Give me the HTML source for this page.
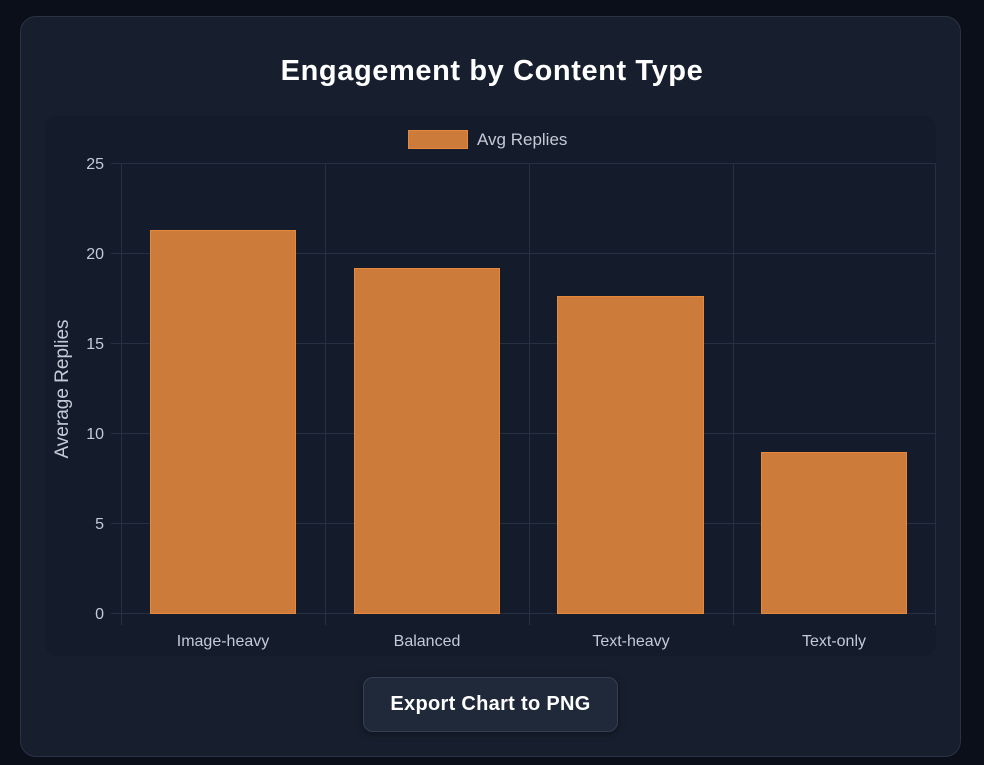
<!DOCTYPE html>
<html><head><style>
body{margin:0;width:984px;height:765px;background:#0b0f1a;font-family:"Liberation Sans",sans-serif;overflow:hidden;position:relative}
.card{position:absolute;left:20px;top:16px;width:941px;height:741px;box-sizing:border-box;background:#171f2e;border:1px solid #2a3344;border-radius:16px}
.title{position:absolute;left:0;width:984px;top:55px;text-align:center;color:#fff;font-weight:bold;font-size:29px;letter-spacing:0.6px}
.panel{position:absolute;left:45px;top:116px;width:891px;height:540px;background:#141c2b;border-radius:12px}
.btn{position:absolute;left:363px;top:677px;width:255px;height:55px;box-sizing:border-box;background:#1f293a;border:1px solid #344055;border-radius:10px;color:#fff;font-weight:bold;font-size:20px;letter-spacing:0.3px;text-align:center;line-height:53px;box-shadow:0 2px 8px rgba(0,0,0,.4)}
svg{position:absolute;left:0;top:0}
</style></head><body>
<div class="card"></div>
<div class="title">Engagement by Content Type</div>
<div class="panel"></div>
<svg width="984" height="765" font-family="Liberation Sans, sans-serif">
<g stroke="#263043" stroke-width="1">
<line x1="111" y1="163.5" x2="935" y2="163.5"/>
<line x1="111" y1="253.5" x2="935" y2="253.5"/>
<line x1="111" y1="343.5" x2="935" y2="343.5"/>
<line x1="111" y1="433.5" x2="935" y2="433.5"/>
<line x1="111" y1="523.5" x2="935" y2="523.5"/>
<line x1="111" y1="613.5" x2="935" y2="613.5"/>
<line x1="121.5" y1="163" x2="121.5" y2="625"/>
<line x1="325.5" y1="163" x2="325.5" y2="625"/>
<line x1="529.5" y1="163" x2="529.5" y2="625"/>
<line x1="733.5" y1="163" x2="733.5" y2="625"/>
<line x1="935.5" y1="163" x2="935.5" y2="625"/>
</g>
<g fill="#cd7b3a" stroke="#e8883a" stroke-width="1">
<rect x="150.5" y="230.5" width="145" height="383"/>
<rect x="354.5" y="268.5" width="145" height="345"/>
<rect x="557.5" y="296.5" width="146" height="317"/>
<rect x="761.5" y="452.5" width="145" height="161"/>
<rect x="408.5" y="130.5" width="59" height="18"/>
</g>
<g fill="#c4cad6" font-size="16">
<text x="477" y="145" font-size="17">Avg Replies</text>
<g text-anchor="end">
<text x="104" y="169">25</text><text x="104" y="259">20</text><text x="104" y="349">15</text>
<text x="104" y="439">10</text><text x="104" y="529">5</text><text x="104" y="619">0</text>
</g>
<g text-anchor="middle">
<text x="223" y="646">Image-heavy</text><text x="427" y="646">Balanced</text>
<text x="631" y="646">Text-heavy</text><text x="834" y="646">Text-only</text>
</g>
<text x="0" y="0" font-size="19" text-anchor="middle" transform="translate(68,389) rotate(-90)">Average Replies</text>
</g>
</svg>
<div class="btn">Export Chart to PNG</div>
</body></html>
